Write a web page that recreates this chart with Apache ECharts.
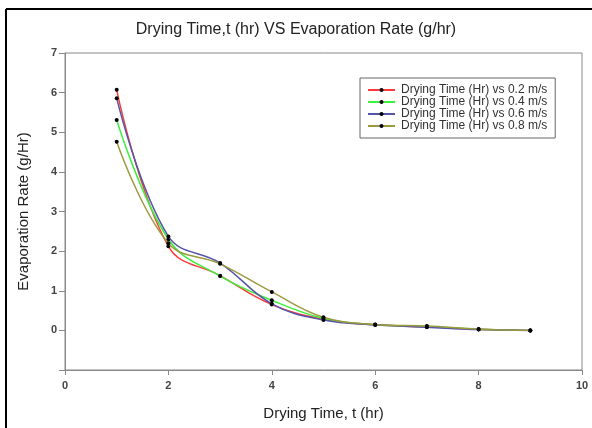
<!DOCTYPE html>
<html><head><meta charset="utf-8">
<script src="https://cdn.jsdelivr.net/npm/echarts@6/dist/echarts.min.js"></script>
<style>html,body{margin:0;padding:0;background:#fff}#c{width:592px;height:428px}</style>
</head><body><div id="c"></div>
<script>
const xValues = [1, 2, 3, 4, 5, 6, 7, 8, 9];
const seriesNames = ['Drying Time (Hr) vs 0.2 m/s','Drying Time (Hr) vs 0.4 m/s','Drying Time (Hr) vs 0.6 m/s','Drying Time (Hr) vs 0.8 m/s'];
const v02 = [6.07, 2.12, 1.38, 0.65, 0.28, 0.14, 0.09, 0.03, 0.0];
const v04 = [5.31, 2.30, 1.37, 0.76, 0.30, 0.14, 0.10, 0.03, 0.0];
const v06 = [5.86, 2.37, 1.70, 0.67, 0.26, 0.14, 0.08, 0.02, 0.0];
const v08 = [4.76, 2.20, 1.68, 0.97, 0.33, 0.15, 0.11, 0.03, 0.0];
const colors = ['#ff3b3b', '#3cf03c', '#5555aa', '#9c9a40'];
const allValues = [v02, v04, v06, v08];
const font = 'Liberation Sans, Arial, sans-serif';
const chart = echarts.init(document.getElementById('c'));
chart.setOption({
  animation: false,
  title: {text: 'Drying Time,t (hr) VS Evaporation Rate (g/hr)', left: 'center', top: 17,
    textStyle: {fontFamily: font, fontSize: 16, fontWeight: 'normal', color: '#222'}},
  graphic: [
    {type: 'line', shape: {x1: 6, y1: 9, x2: 592, y2: 9}, style: {stroke: '#000', lineWidth: 2}},
    {type: 'line', shape: {x1: 6, y1: 9, x2: 6, y2: 428}, style: {stroke: '#000', lineWidth: 2}}
  ],
  legend: {orient: 'vertical', left: 360, top: 78, itemGap: 0, itemWidth: 27, itemHeight: 5,
    padding: [6, 8, 6, 7], borderColor: '#666', borderWidth: 1, backgroundColor: '#fff',
    textStyle: {fontFamily: font, fontSize: 12, lineHeight: 11, color: '#333', padding: [0, 0, 0, 1]},
    data: seriesNames},
  grid: {left: 65, right: 10, top: 53, bottom: 58, show: true, borderColor: '#888', borderWidth: 1},
  xAxis: {type: 'value', min: 0, max: 10, interval: 2, name: 'Drying Time, t (hr)', nameLocation: 'middle', nameGap: 36,
    nameTextStyle: {fontFamily: font, fontSize: 15, color: '#222'},
    axisLine: {onZero: false, lineStyle: {color: '#888'}}, axisTick: {inside: false, length: 5, lineStyle: {color: '#888'}},
    axisLabel: {fontFamily: font, fontSize: 11, fontWeight: 'bold', color: '#444', margin: 10},
    splitLine: {show: false}},
  yAxis: {type: 'value', min: -1, max: 7, interval: 1, name: 'Evaporation Rate (g/Hr)', nameLocation: 'middle', nameGap: 34,
    nameTextStyle: {fontFamily: font, fontSize: 15, color: '#222'},
    axisLine: {onZero: false, lineStyle: {color: '#888'}}, axisTick: {inside: false, length: 6, lineStyle: {color: '#888'}},
    axisLabel: {fontFamily: font, fontSize: 11, fontWeight: 'bold', color: '#444', margin: 8,
      formatter: v => v < 0 ? '' : String(v)},
    splitLine: {show: false}},
  series: allValues.map((vals, i) => ({
    name: seriesNames[i], type: 'line', smooth: 0.4,
    data: xValues.map((x, j) => [x, vals[j]]),
    symbol: 'circle', symbolSize: 4,
    itemStyle: {color: '#000'},
    lineStyle: {color: colors[i], width: 1.5},
    z: 2 + i
  }))
});
</script></body></html>
